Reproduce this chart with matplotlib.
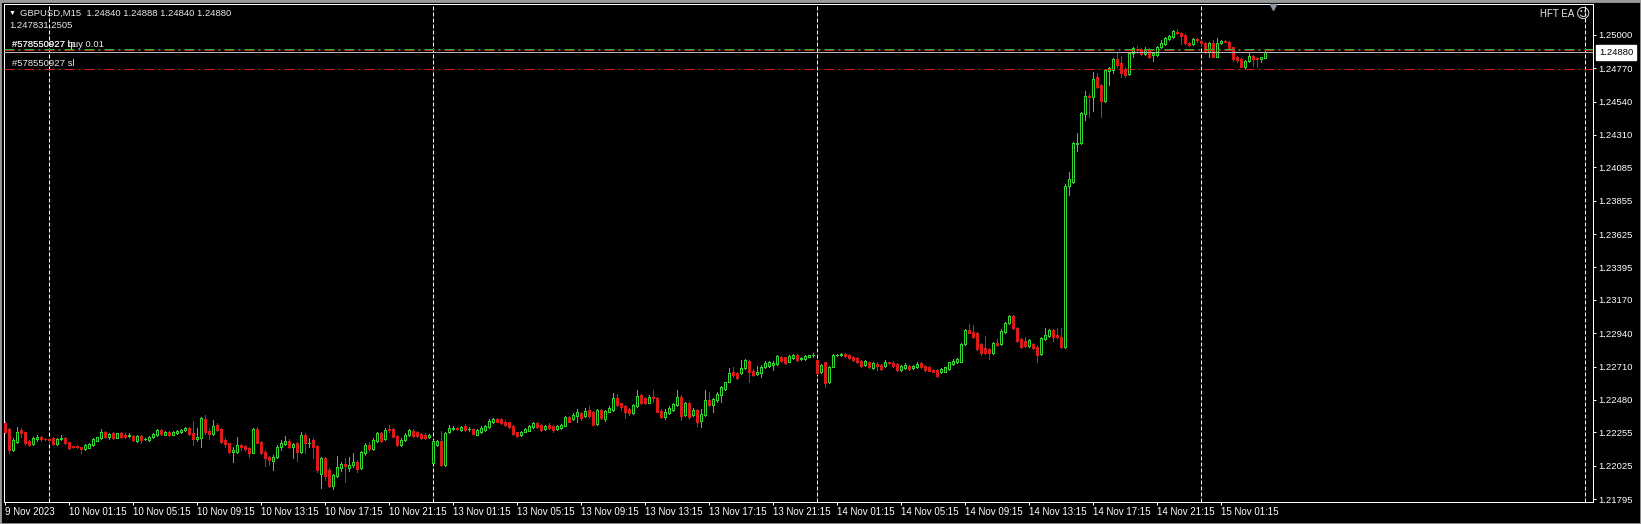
import matplotlib
matplotlib.use('Agg')
import matplotlib.pyplot as plt
from matplotlib import transforms
import numpy as np
import pandas as pd

plt.rcParams['font.family'] = ['Liberation Sans', 'DejaVu Sans']

# GBPUSD M15 bars, 9 Nov 2023 21:15 -> 15 Nov 2023 04:00
opens = [
    1.22318, 1.22277, 1.22134, 1.22191, 1.22272, 1.22256, 1.22198, 1.22175, 1.22208, 1.22226,
    1.22210, 1.22210, 1.22214, 1.22173, 1.22208, 1.22214, 1.22187, 1.22159, 1.22159, 1.22152,
    1.22141, 1.22150, 1.22168, 1.22198, 1.22214, 1.22260, 1.22221, 1.22249, 1.22219, 1.22249,
    1.22240, 1.22231, 1.22233, 1.22198, 1.22231, 1.22208, 1.22203, 1.22221, 1.22235, 1.22272,
    1.22240, 1.22258, 1.22240, 1.22254, 1.22258, 1.22272, 1.22286, 1.22249, 1.22208, 1.22214,
    1.22350, 1.22267, 1.22244, 1.22304, 1.22281, 1.22203, 1.22180, 1.22118, 1.22122, 1.22168,
    1.22162, 1.22145, 1.22116, 1.22277, 1.22191, 1.22122, 1.22088, 1.22058, 1.22083, 1.22157,
    1.22175, 1.22198, 1.22152, 1.22180, 1.22122, 1.22237, 1.22180, 1.22203, 1.22162, 1.21968,
    1.22076, 1.21996, 1.21886, 1.21954, 1.22007, 1.22037, 1.22007, 1.22030, 1.22053, 1.22007,
    1.22116, 1.22168, 1.22139, 1.22198, 1.22249, 1.22208, 1.22277, 1.22277, 1.22231, 1.22168,
    1.22203, 1.22237, 1.22267, 1.22260, 1.22244, 1.22237, 1.22221, 1.22047, 1.22168, 1.22198,
    1.22030, 1.22256, 1.22282, 1.22287, 1.22273, 1.22296, 1.22278, 1.22280, 1.22238, 1.22261,
    1.22273, 1.22291, 1.22324, 1.22351, 1.22347, 1.22330, 1.22324, 1.22296, 1.22255, 1.22238,
    1.22261, 1.22268, 1.22291, 1.22319, 1.22307, 1.22278, 1.22307, 1.22296, 1.22278, 1.22284,
    1.22300, 1.22360, 1.22347, 1.22370, 1.22388, 1.22370, 1.22411, 1.22399, 1.22312, 1.22411,
    1.22347, 1.22399, 1.22411, 1.22491, 1.22457, 1.22439, 1.22416, 1.22388, 1.22439, 1.22515,
    1.22496, 1.22461, 1.22503, 1.22491, 1.22406, 1.22360, 1.22388, 1.22411, 1.22445, 1.22503,
    1.22376, 1.22461, 1.22376, 1.22411, 1.22337, 1.22376, 1.22480, 1.22445, 1.22480, 1.22514,
    1.22554, 1.22606, 1.22669, 1.22664, 1.22664, 1.22698, 1.22751, 1.22682, 1.22657, 1.22664,
    1.22705, 1.22715, 1.22721, 1.22728, 1.22779, 1.22774, 1.22744, 1.22767, 1.22791, 1.22763,
    1.22761, 1.22779, 1.22788, 1.22756, 1.22669, 1.22738, 1.22600, 1.22710, 1.22788, 1.22788,
    1.22795, 1.22790, 1.22779, 1.22767, 1.22751, 1.22721, 1.22738, 1.22698, 1.22728, 1.22721,
    1.22715, 1.22738, 1.22733, 1.22728, 1.22687, 1.22698, 1.22715, 1.22698, 1.22705, 1.22733,
    1.22715, 1.22710, 1.22687, 1.22687, 1.22669, 1.22675, 1.22692, 1.22728, 1.22738, 1.22744,
    1.22866, 1.22963, 1.22951, 1.22945, 1.22866, 1.22836, 1.22829, 1.22802, 1.22871, 1.22866,
    1.22951, 1.23009, 1.23059, 1.22974, 1.22899, 1.22889, 1.22853, 1.22866, 1.22848, 1.22795,
    1.22899, 1.22922, 1.22963, 1.22928, 1.22917, 1.22843, 1.23954, 1.23988, 1.24248, 1.24253,
    1.24455, 1.24580, 1.24570, 1.24708, 1.24655, 1.24547, 1.24754, 1.24759, 1.24832, 1.24805,
    1.24764, 1.24729, 1.24874, 1.24904, 1.24901, 1.24869, 1.24901, 1.24862, 1.24862, 1.24916,
    1.24938, 1.24970, 1.24984, 1.25023, 1.25016, 1.25000, 1.24947, 1.24938, 1.24970, 1.24961,
    1.24947, 1.24885, 1.24943, 1.24851, 1.24943, 1.24961, 1.24954, 1.24916, 1.24846, 1.24832,
    1.24782, 1.24823, 1.24856, 1.24839, 1.24832, 1.24840,
]
highs = [
    1.22336, 1.22283, 1.22214, 1.22290, 1.22283, 1.22260, 1.22203, 1.22221, 1.22235, 1.22231,
    1.22214, 1.22214, 1.22221, 1.22214, 1.22237, 1.22221, 1.22191, 1.22164, 1.22168, 1.22157,
    1.22175, 1.22180, 1.22214, 1.22226, 1.22277, 1.22267, 1.22254, 1.22260, 1.22254, 1.22256,
    1.22249, 1.22254, 1.22237, 1.22237, 1.22235, 1.22219, 1.22231, 1.22249, 1.22277, 1.22281,
    1.22267, 1.22265, 1.22265, 1.22272, 1.22279, 1.22295, 1.22295, 1.22334, 1.22283, 1.22364,
    1.22375, 1.22283, 1.22341, 1.22318, 1.22286, 1.22214, 1.22185, 1.22157, 1.22221, 1.22175,
    1.22168, 1.22157, 1.22283, 1.22290, 1.22198, 1.22134, 1.22093, 1.22099, 1.22168, 1.22203,
    1.22231, 1.22208, 1.22185, 1.22191, 1.22260, 1.22249, 1.22214, 1.22214, 1.22168, 1.22088,
    1.22088, 1.22007, 1.21968, 1.22093, 1.22053, 1.22076, 1.22088, 1.22111, 1.22065, 1.22129,
    1.22185, 1.22191, 1.22214, 1.22260, 1.22258, 1.22283, 1.22306, 1.22283, 1.22237, 1.22214,
    1.22249, 1.22277, 1.22277, 1.22267, 1.22254, 1.22249, 1.22244, 1.22203, 1.22203, 1.22267,
    1.22260, 1.22306, 1.22296, 1.22291, 1.22300, 1.22312, 1.22291, 1.22284, 1.22280, 1.22300,
    1.22307, 1.22347, 1.22356, 1.22358, 1.22353, 1.22342, 1.22330, 1.22303, 1.22261, 1.22268,
    1.22284, 1.22307, 1.22324, 1.22328, 1.22314, 1.22303, 1.22319, 1.22303, 1.22303, 1.22314,
    1.22370, 1.22370, 1.22388, 1.22416, 1.22399, 1.22422, 1.22439, 1.22406, 1.22418, 1.22418,
    1.22411, 1.22439, 1.22526, 1.22521, 1.22461, 1.22445, 1.22422, 1.22452, 1.22549, 1.22521,
    1.22503, 1.22515, 1.22549, 1.22498, 1.22416, 1.22416, 1.22439, 1.22461, 1.22549, 1.22515,
    1.22468, 1.22468, 1.22422, 1.22418, 1.22416, 1.22549, 1.22537, 1.22491, 1.22531, 1.22577,
    1.22606, 1.22698, 1.22710, 1.22669, 1.22756, 1.22761, 1.22756, 1.22692, 1.22715, 1.22721,
    1.22751, 1.22751, 1.22751, 1.22791, 1.22784, 1.22779, 1.22791, 1.22797, 1.22797, 1.22774,
    1.22788, 1.22793, 1.22802, 1.22761, 1.22728, 1.22744, 1.22715, 1.22797, 1.22797, 1.22802,
    1.22802, 1.22797, 1.22786, 1.22774, 1.22756, 1.22756, 1.22744, 1.22738, 1.22738, 1.22728,
    1.22756, 1.22744, 1.22751, 1.22733, 1.22721, 1.22733, 1.22721, 1.22721, 1.22744, 1.22738,
    1.22721, 1.22715, 1.22692, 1.22692, 1.22698, 1.22710, 1.22744, 1.22761, 1.22770, 1.22876,
    1.22972, 1.23004, 1.22997, 1.22951, 1.22871, 1.22922, 1.22836, 1.22882, 1.22899, 1.22968,
    1.23020, 1.23066, 1.23064, 1.22981, 1.22906, 1.22912, 1.22899, 1.22876, 1.22859, 1.22912,
    1.22974, 1.22968, 1.22968, 1.22974, 1.22974, 1.23971, 1.24057, 1.24264, 1.24326, 1.24471,
    1.24610, 1.24593, 1.24741, 1.24736, 1.24662, 1.24764, 1.24782, 1.24839, 1.24874, 1.24856,
    1.24782, 1.24879, 1.24916, 1.24925, 1.24908, 1.24916, 1.24908, 1.24885, 1.24925, 1.24966,
    1.24984, 1.25000, 1.25035, 1.25040, 1.25023, 1.25007, 1.24954, 1.24977, 1.24977, 1.24970,
    1.24954, 1.24954, 1.24966, 1.24977, 1.24966, 1.24966, 1.24961, 1.24920, 1.24856, 1.24839,
    1.24828, 1.24874, 1.24862, 1.24846, 1.24851, 1.24888,
]
lows = [
    1.22249, 1.22116, 1.22129, 1.22185, 1.22221, 1.22168, 1.22162, 1.22168, 1.22198, 1.22198,
    1.22203, 1.22196, 1.22168, 1.22168, 1.22203, 1.22175, 1.22143, 1.22150, 1.22150, 1.22111,
    1.22134, 1.22145, 1.22164, 1.22194, 1.22210, 1.22214, 1.22208, 1.22208, 1.22214, 1.22217,
    1.22217, 1.22226, 1.22198, 1.22191, 1.22185, 1.22203, 1.22194, 1.22217, 1.22231, 1.22237,
    1.22235, 1.22233, 1.22235, 1.22244, 1.22251, 1.22263, 1.22240, 1.22168, 1.22198, 1.22157,
    1.22242, 1.22208, 1.22240, 1.22267, 1.22180, 1.22157, 1.22116, 1.22053, 1.22116, 1.22134,
    1.22129, 1.22088, 1.22111, 1.22180, 1.22106, 1.22024, 1.22030, 1.21996, 1.22076, 1.22134,
    1.22168, 1.22145, 1.22076, 1.22060, 1.22111, 1.22116, 1.22157, 1.22076, 1.21984, 1.21870,
    1.21927, 1.21876, 1.21863, 1.21945, 1.21991, 1.21916, 1.21991, 1.22019, 1.21984, 1.22000,
    1.22099, 1.22129, 1.22134, 1.22191, 1.22191, 1.22203, 1.22260, 1.22221, 1.22162, 1.22162,
    1.22198, 1.22231, 1.22226, 1.22226, 1.22208, 1.22210, 1.22217, 1.22042, 1.22164, 1.22024,
    1.22024, 1.22251, 1.22273, 1.22273, 1.22268, 1.22268, 1.22268, 1.22241, 1.22234, 1.22250,
    1.22268, 1.22287, 1.22319, 1.22326, 1.22314, 1.22296, 1.22284, 1.22238, 1.22222, 1.22227,
    1.22255, 1.22264, 1.22287, 1.22287, 1.22268, 1.22273, 1.22278, 1.22261, 1.22273, 1.22278,
    1.22296, 1.22324, 1.22342, 1.22330, 1.22342, 1.22360, 1.22353, 1.22303, 1.22307, 1.22347,
    1.22337, 1.22395, 1.22406, 1.22439, 1.22411, 1.22353, 1.22376, 1.22383, 1.22434, 1.22452,
    1.22452, 1.22457, 1.22468, 1.22393, 1.22353, 1.22351, 1.22383, 1.22406, 1.22439, 1.22342,
    1.22370, 1.22347, 1.22370, 1.22301, 1.22291, 1.22370, 1.22439, 1.22399, 1.22468, 1.22468,
    1.22549, 1.22600, 1.22641, 1.22623, 1.22657, 1.22692, 1.22606, 1.22646, 1.22652, 1.22641,
    1.22698, 1.22710, 1.22687, 1.22724, 1.22744, 1.22726, 1.22738, 1.22761, 1.22751, 1.22756,
    1.22756, 1.22774, 1.22779, 1.22659, 1.22664, 1.22567, 1.22595, 1.22705, 1.22784, 1.22784,
    1.22779, 1.22763, 1.22751, 1.22733, 1.22710, 1.22715, 1.22698, 1.22692, 1.22687, 1.22687,
    1.22710, 1.22728, 1.22710, 1.22682, 1.22682, 1.22692, 1.22687, 1.22694, 1.22701, 1.22701,
    1.22682, 1.22678, 1.22671, 1.22636, 1.22664, 1.22671, 1.22687, 1.22724, 1.22733, 1.22740,
    1.22859, 1.22940, 1.22910, 1.22825, 1.22790, 1.22797, 1.22761, 1.22797, 1.22853, 1.22859,
    1.22945, 1.23002, 1.22968, 1.22882, 1.22841, 1.22848, 1.22848, 1.22829, 1.22744, 1.22790,
    1.22894, 1.22917, 1.22889, 1.22906, 1.22836, 1.22836, 1.23896, 1.23981, 1.24202, 1.24248,
    1.24414, 1.24432, 1.24478, 1.24632, 1.24437, 1.24540, 1.24655, 1.24736, 1.24782, 1.24713,
    1.24713, 1.24724, 1.24851, 1.24879, 1.24862, 1.24860, 1.24839, 1.24823, 1.24856, 1.24908,
    1.24931, 1.24966, 1.24977, 1.25007, 1.24938, 1.24938, 1.24925, 1.24931, 1.24954, 1.24931,
    1.24874, 1.24851, 1.24846, 1.24846, 1.24938, 1.24952, 1.24901, 1.24823, 1.24816, 1.24777,
    1.24770, 1.24816, 1.24786, 1.24782, 1.24816, 1.24840,
]
closes = [
    1.22260, 1.22134, 1.22203, 1.22260, 1.22249, 1.22185, 1.22168, 1.22214, 1.22226, 1.22208,
    1.22208, 1.22201, 1.22173, 1.22208, 1.22214, 1.22180, 1.22150, 1.22155, 1.22155, 1.22143,
    1.22168, 1.22175, 1.22208, 1.22221, 1.22260, 1.22221, 1.22244, 1.22214, 1.22249, 1.22226,
    1.22221, 1.22237, 1.22203, 1.22233, 1.22203, 1.22212, 1.22226, 1.22242, 1.22272, 1.22242,
    1.22258, 1.22237, 1.22258, 1.22267, 1.22272, 1.22286, 1.22244, 1.22208, 1.22226, 1.22352,
    1.22260, 1.22244, 1.22302, 1.22272, 1.22191, 1.22173, 1.22122, 1.22134, 1.22168, 1.22152,
    1.22139, 1.22116, 1.22277, 1.22185, 1.22111, 1.22076, 1.22065, 1.22088, 1.22157, 1.22185,
    1.22198, 1.22157, 1.22175, 1.22122, 1.22237, 1.22180, 1.22185, 1.22157, 1.21996, 1.22076,
    1.21954, 1.21886, 1.21961, 1.22014, 1.22037, 1.22023, 1.22030, 1.22053, 1.22000, 1.22122,
    1.22168, 1.22139, 1.22203, 1.22249, 1.22198, 1.22272, 1.22272, 1.22226, 1.22168, 1.22203,
    1.22237, 1.22272, 1.22231, 1.22231, 1.22214, 1.22214, 1.22237, 1.22198, 1.22196, 1.22030,
    1.22254, 1.22283, 1.22287, 1.22280, 1.22291, 1.22273, 1.22282, 1.22245, 1.22273, 1.22284,
    1.22296, 1.22337, 1.22347, 1.22330, 1.22319, 1.22307, 1.22291, 1.22245, 1.22232, 1.22261,
    1.22278, 1.22300, 1.22319, 1.22291, 1.22273, 1.22296, 1.22284, 1.22273, 1.22296, 1.22307,
    1.22360, 1.22330, 1.22376, 1.22393, 1.22353, 1.22406, 1.22365, 1.22307, 1.22411, 1.22353,
    1.22404, 1.22422, 1.22491, 1.22445, 1.22429, 1.22399, 1.22388, 1.22445, 1.22508, 1.22461,
    1.22457, 1.22503, 1.22491, 1.22399, 1.22360, 1.22393, 1.22422, 1.22452, 1.22503, 1.22370,
    1.22461, 1.22360, 1.22411, 1.22330, 1.22383, 1.22480, 1.22445, 1.22484, 1.22521, 1.22567,
    1.22600, 1.22664, 1.22652, 1.22629, 1.22698, 1.22756, 1.22675, 1.22652, 1.22669, 1.22710,
    1.22733, 1.22738, 1.22733, 1.22784, 1.22751, 1.22733, 1.22784, 1.22791, 1.22756, 1.22767,
    1.22784, 1.22788, 1.22791, 1.22664, 1.22721, 1.22595, 1.22710, 1.22791, 1.22793, 1.22795,
    1.22784, 1.22767, 1.22756, 1.22738, 1.22715, 1.22749, 1.22705, 1.22733, 1.22715, 1.22692,
    1.22738, 1.22733, 1.22715, 1.22687, 1.22715, 1.22721, 1.22692, 1.22715, 1.22728, 1.22705,
    1.22687, 1.22682, 1.22675, 1.22646, 1.22692, 1.22705, 1.22738, 1.22751, 1.22761, 1.22866,
    1.22963, 1.22945, 1.22917, 1.22829, 1.22802, 1.22807, 1.22807, 1.22876, 1.22859, 1.22958,
    1.23009, 1.23059, 1.22974, 1.22889, 1.22848, 1.22853, 1.22894, 1.22836, 1.22790, 1.22906,
    1.22928, 1.22963, 1.22917, 1.22912, 1.22843, 1.23958, 1.24004, 1.24257, 1.24257, 1.24460,
    1.24580, 1.24570, 1.24694, 1.24644, 1.24547, 1.24759, 1.24770, 1.24832, 1.24793, 1.24736,
    1.24724, 1.24874, 1.24908, 1.24899, 1.24869, 1.24901, 1.24846, 1.24879, 1.24920, 1.24943,
    1.24977, 1.24993, 1.25028, 1.25016, 1.24993, 1.24943, 1.24929, 1.24973, 1.24966, 1.24947,
    1.24885, 1.24943, 1.24851, 1.24947, 1.24961, 1.24954, 1.24908, 1.24832, 1.24828, 1.24782,
    1.24823, 1.24856, 1.24832, 1.24832, 1.24846, 1.24880,
]

price_ticks = [1.25000, 1.24770, 1.24540, 1.24310, 1.24085, 1.23855, 1.23625, 1.23395,
               1.23170, 1.22940, 1.22710, 1.22480, 1.22255, 1.22025, 1.21795]

# open order lines
buy_price = 1.24903
tp_price = 1.24896
sl_price = 1.24768

# bar times: Thursday evening + Friday, then Monday to Wednesday morning
times = pd.DatetimeIndex(list(pd.date_range('2023-11-09 21:15', '2023-11-10 23:45', freq='15min')) +
                         list(pd.date_range('2023-11-13 00:00', '2023-11-15 04:00', freq='15min')))

W, H = 1641, 524
PX = 0.72  # one pixel in points at dpi 100

fig = plt.figure(figsize=(W / 100, H / 100), dpi=100, facecolor='black')
ax = fig.add_axes([4 / W, 1 - 501.7 / H, 1589 / W, 497.4 / H], facecolor='black')

o = np.array(opens)
h = np.array(highs)
l = np.array(lows)
c = np.array(closes)
x = np.arange(len(c))
up = c >= o
green = '#2ed82e'
red = '#dc1a1a'

ax.vlines(x, l, h, colors=[green if u else red for u in up], linewidth=PX,
          antialiased=False, zorder=3)
ax.bar(x, np.abs(c - o), bottom=np.minimum(o, c), width=0.5,
       color=['black' if u else red for u in up],
       edgecolor=[green if u else red for u in up],
       linewidth=PX, antialiased=False, zorder=4)

# period separators at midnight (incl. the next one in the empty area)
seps = [i for i, t in enumerate(times) if t.hour == 0 and t.minute == 0]
seps.append(len(times) - 1 + int((pd.Timestamp('2023-11-16') - times[-1]) / pd.Timedelta('15min')))
for s in seps:
    ax.axvline(s, color='white', lw=PX, ls=(0, (4, 2)), zorder=2)

# order lines and bid line
ax.axhline(buy_price, color='#2eb82e', lw=PX, ls=(0, (10, 4, 2, 4)), zorder=5)
ax.axhline(tp_price, color='#d42020', lw=PX, ls=(0, (10, 4, 2, 4)), zorder=5)
ax.axhline(sl_price, color='#d42020', lw=PX, ls=(0, (10, 4, 2, 4)), zorder=5)
ax.axhline(closes[-1], color='#b4b4b4', lw=PX, zorder=5)

ax.set_xlim(-0.325, 396.925)
ax.set_ylim(1.217765, 1.25212)

ax.yaxis.tick_right()
ax.set_yticks(price_ticks)
ax.set_yticklabels([f'{p:.5f}' for p in price_ticks])
ax.tick_params(axis='y', colors='white', length=3 * PX, width=PX, pad=2, labelsize=6.8)

lab_idx = list(range(0, len(times), 16))
ax.set_xticks(lab_idx)
ax.set_xticklabels(['9 Nov 2023' if i == 0 else f'{times[i].day} {times[i]:%b %H:%M}' for i in lab_idx])
ax.tick_params(axis='x', colors='white', length=3 * PX, width=PX, pad=1.5, labelsize=7)
for t in ax.get_xticklabels():
    t.set_ha('left')
for sp in ax.spines.values():
    sp.set_color('white')
    sp.set_linewidth(PX)

# current price box on the price scale
tr = transforms.blended_transform_factory(fig.transFigure, ax.transData)
ax.text(1599 / W, closes[-1], f'{closes[-1]:.5f}', transform=tr, fontsize=6.8, color='black',
        va='center', ha='left', bbox=dict(boxstyle='square,pad=0.3', fc='white', ec='white'),
        clip_on=False, zorder=6)

# chart shift marker
ax.plot([316.9], [1.25193], marker='v', ms=5, color='#8a96a6', clip_on=False, zorder=6)


def ftext(px, py, s, **kw):
    fig.text(px / W, 1 - py / H, s, va='center', ha='left', **kw)


ftext(9, 13.3, '▼', color='white', fontsize=5)
ftext(20.5, 13.3, 'GBPUSD,M15  1.24840 1.24888 1.24840 1.24880', color='#e8e8e8', fontsize=6.8)
ftext(9, 25.3, '1.247831.2505', color='#e8e8e8', fontsize=6.8)
# the order label and the tp label sit on top of each other, as on the terminal
ftext(11.5, 44.3, '#578550927 buy 0.01', color='#e8e8e8', fontsize=6.8)
ftext(12, 44.3, '#578550927 tp', color='#e8e8e8', fontsize=6.8)
ftext(11.5, 64, '#578550927 sl', color='#e8e8e8', fontsize=6.8)
ftext(1540, 14, 'HFT EA', color='#e8e8e8', fontsize=7)
ftext(1576, 14, '☺', color='#e8e8e8', fontsize=10, family='DejaVu Sans')

# window frame
fig.add_artist(plt.Rectangle((0, 1 - 3 / H), 1, 3 / H, transform=fig.transFigure, fc='#8c8c8c', ec='none'))
fig.add_artist(plt.Rectangle((0, 0), 1, 1, transform=fig.transFigure, fill=False, ec='#9a9a9a', lw=2))

fig.savefig('out.png', dpi=100, facecolor='black')
